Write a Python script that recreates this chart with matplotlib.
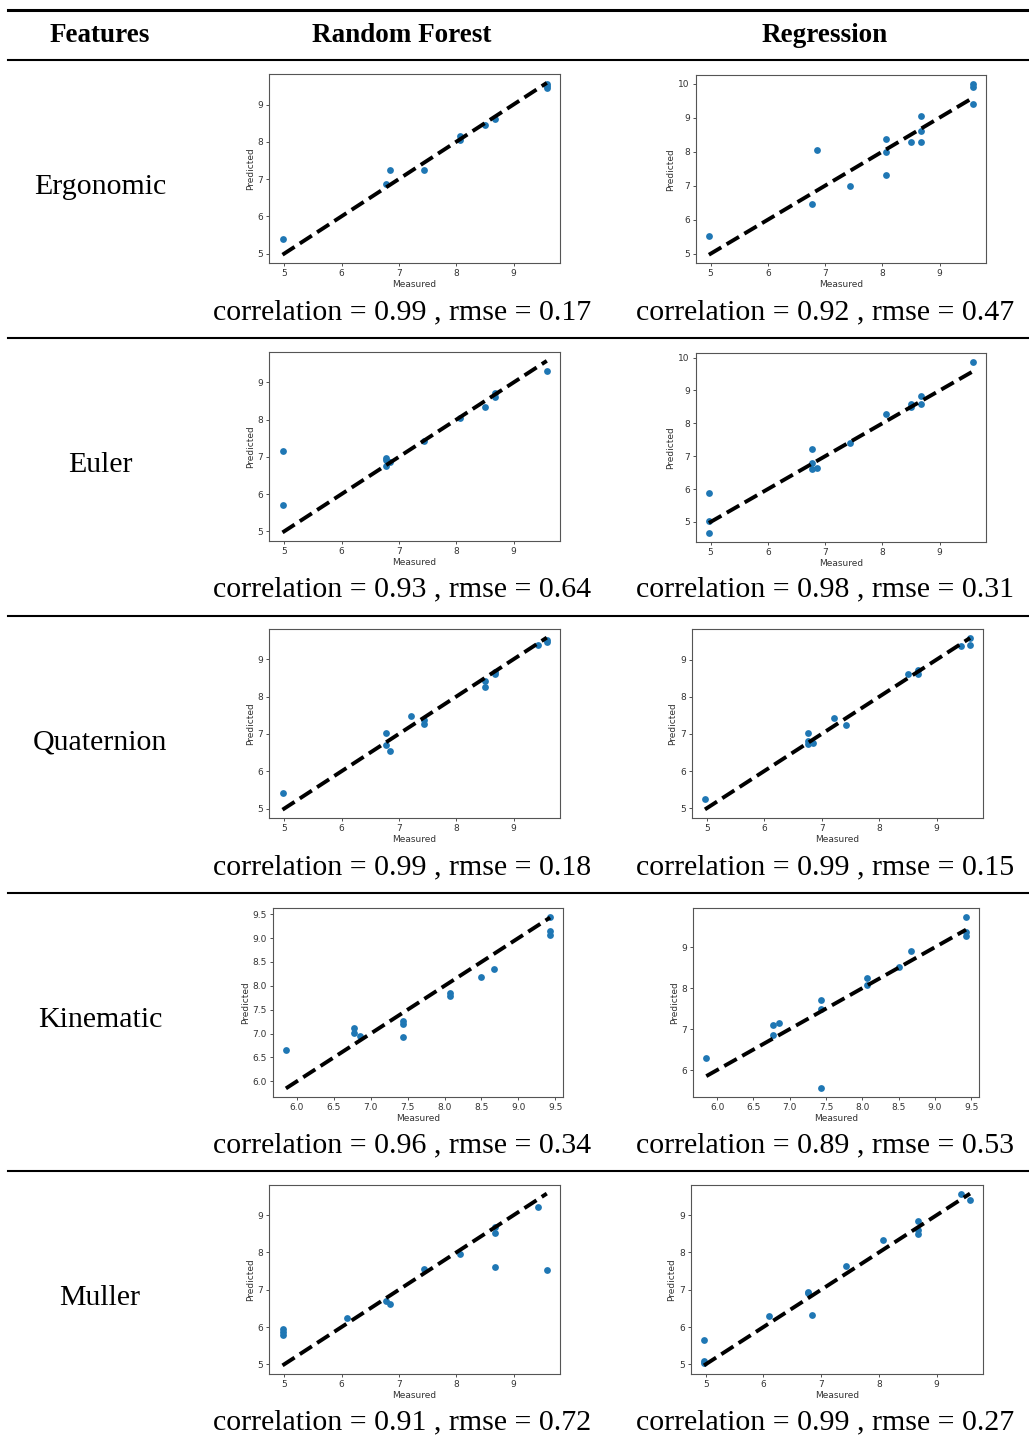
import matplotlib
matplotlib.use("Agg")
import matplotlib.pyplot as plt
from matplotlib.ticker import MultipleLocator

features = ["Ergonomic", "Euler", "Quaternion", "Kinematic", "Muller"]
headers = ["Features", "Random Forest", "Regression"]

# Measured vs. predicted scores, one pair of lists per feature set and model
ergo_rf_meas = [4.97, 6.77, 6.85, 7.43, 8.07, 8.07, 8.50, 8.68, 9.58, 9.58, 9.58]
ergo_rf_pred = [5.39, 6.86, 7.23, 7.23, 8.16, 8.06, 8.44, 8.60, 9.55, 9.49, 9.43]
ergo_reg_meas = [4.97, 6.77, 6.85, 7.43, 8.07, 8.07, 8.07, 8.50, 8.68, 8.68, 8.68, 9.58, 9.58, 9.58]
ergo_reg_pred = [5.51, 6.45, 8.04, 7.00, 8.37, 7.98, 7.30, 8.27, 9.05, 8.61, 8.27, 10.00, 9.91, 9.41]

euler_rf_meas = [4.97, 4.97, 6.77, 6.77, 6.77, 6.85, 7.43, 8.07, 8.50, 8.68, 8.68, 9.58]
euler_rf_pred = [7.16, 5.71, 6.98, 6.92, 6.76, 6.85, 7.43, 8.04, 8.33, 8.61, 8.72, 9.32]
euler_reg_meas = [4.97, 4.97, 4.97, 6.77, 6.77, 6.77, 6.85, 7.43, 8.07, 8.50, 8.50, 8.68, 8.68, 9.58]
euler_reg_pred = [5.89, 5.02, 4.66, 7.22, 6.78, 6.61, 6.65, 7.41, 8.28, 8.60, 8.49, 8.83, 8.58, 9.88]

quat_rf_meas = [4.97, 6.77, 6.77, 6.85, 7.22, 7.43, 7.43, 8.50, 8.50, 8.68, 8.68, 9.43, 9.58, 9.58]
quat_rf_pred = [5.41, 7.02, 6.69, 6.54, 7.48, 7.38, 7.27, 8.42, 8.27, 8.65, 8.60, 9.38, 9.52, 9.45]
quat_reg_meas = [4.97, 6.77, 6.77, 6.77, 6.85, 7.22, 7.43, 8.50, 8.68, 8.68, 9.43, 9.58, 9.58]
quat_reg_pred = [5.25, 7.02, 6.82, 6.73, 6.75, 7.44, 7.23, 8.60, 8.71, 8.62, 9.37, 9.59, 9.38]

kin_rf_meas = [5.85, 6.77, 6.77, 6.85, 7.43, 7.43, 7.43, 8.07, 8.07, 8.50, 8.67, 9.43, 9.43, 9.43]
kin_rf_pred = [6.65, 7.11, 7.01, 6.94, 7.27, 7.21, 6.92, 7.85, 7.78, 8.18, 8.36, 9.45, 9.14, 9.06]
kin_reg_meas = [5.85, 6.77, 6.77, 6.85, 7.43, 7.43, 7.43, 8.07, 8.07, 8.50, 8.67, 9.43, 9.43, 9.43]
kin_reg_pred = [6.30, 7.09, 6.85, 7.16, 7.70, 7.50, 5.55, 8.26, 8.08, 8.51, 8.92, 9.75, 9.37, 9.27]

muller_rf_meas = [4.97, 4.97, 4.97, 6.10, 6.77, 6.85, 7.43, 8.07, 8.68, 8.68, 8.68, 9.43, 9.58]
muller_rf_pred = [5.96, 5.86, 5.78, 6.23, 6.70, 6.61, 7.55, 7.96, 8.69, 8.53, 7.60, 9.22, 7.53]
muller_reg_meas = [4.97, 4.97, 4.97, 6.10, 6.77, 6.77, 6.85, 7.43, 8.07, 8.68, 8.68, 8.68, 9.43, 9.58]
muller_reg_pred = [5.66, 5.10, 5.04, 6.29, 6.95, 6.90, 6.31, 7.64, 8.34, 8.85, 8.60, 8.49, 9.57, 9.41]

rf_correlation = [0.99, 0.93, 0.99, 0.96, 0.91]
rf_rmse = [0.17, 0.64, 0.18, 0.34, 0.72]
reg_correlation = [0.92, 0.98, 0.99, 0.89, 0.99]
reg_rmse = [0.47, 0.31, 0.15, 0.53, 0.27]

rf_series = [(ergo_rf_meas, ergo_rf_pred), (euler_rf_meas, euler_rf_pred),
             (quat_rf_meas, quat_rf_pred), (kin_rf_meas, kin_rf_pred),
             (muller_rf_meas, muller_rf_pred)]
reg_series = [(ergo_reg_meas, ergo_reg_pred), (euler_reg_meas, euler_reg_pred),
              (quat_reg_meas, quat_reg_pred), (kin_reg_meas, kin_reg_pred),
              (muller_reg_meas, muller_reg_pred)]

W, H = 1029, 1443
fig = plt.figure(figsize=(W / 100, H / 100), dpi=100)
fig.patch.set_facecolor("white")

SERIF = ["Liberation Serif", "DejaVu Serif"]


def fx(px):
    return px / W


def fy(py):
    return 1 - py / H


def hline(py, lw, x0=8, x1=W):
    fig.add_artist(plt.Line2D([fx(x0), fx(x1)], [fy(py), fy(py)],
                              transform=fig.transFigure, color="black", lw=lw))


# table rules
hline(9.5, 2.2)
hline(60, 1.5)
for py in [338, 615.5, 893, 1171]:
    hline(py, 1.5)

# header row
for txt, cx in zip(headers, [100, 402, 825]):
    fig.text(fx(cx), fy(35), txt, ha="center", va="center",
             fontsize=19.5, fontweight="bold", family=SERIF)

# panel boxes in pixels: (left, top, right, bottom)
rf_boxes = [(269.3, 74.3, 560, 263.3), (269.3, 352.3, 560, 541),
            (269.3, 629, 560, 818.3), (272.7, 908, 563.3, 1097),
            (269.3, 1185, 560, 1374)]
reg_boxes = [(695.7, 75, 986, 263.3), (695.7, 353, 986, 541.7),
             (691.7, 629, 983.3, 818), (693.3, 908, 979, 1097),
             (690.7, 1185, 983.3, 1374)]
rf_steps = [(1, 1), (1, 1), (1, 1), (0.5, 0.5), (1, 1)]
reg_steps = [(1, 1), (1, 1), (1, 1), (0.5, 1), (1, 1)]

ROW = 277.7


def panel(box, meas, pred, steps):
    l, t, r, b = box
    ax = fig.add_axes([fx(l), fy(b), fx(r - l), (b - t) / H])
    ax.scatter(meas, pred, s=24, color="#1f77b4", linewidths=0, zorder=2)
    lo, hi = min(meas), max(meas)
    ax.plot([lo, hi], [lo, hi], "k--", lw=2.8, zorder=3)
    ax.xaxis.set_major_locator(MultipleLocator(steps[0]))
    ax.yaxis.set_major_locator(MultipleLocator(steps[1]))
    ax.tick_params(labelsize=6.5, length=2.2, width=0.6, pad=2,
                   colors="#333333")
    ax.set_xlabel("Measured", fontsize=6.5, color="#333333", labelpad=1.5)
    ax.set_ylabel("Predicted", fontsize=6.5, color="#333333", labelpad=2)
    for sp in ax.spines.values():
        sp.set_linewidth(0.8)
        sp.set_color("#555555")
    return ax


for i, name in enumerate(features):
    fig.text(fx(100), fy(187 + i * ROW), name, ha="center", va="center",
             fontsize=21.5, family=SERIF)
    panel(rf_boxes[i], *rf_series[i], rf_steps[i])
    panel(reg_boxes[i], *reg_series[i], reg_steps[i])
    cy = 312 + i * ROW
    fig.text(fx(402), fy(cy),
             f"correlation = {rf_correlation[i]:.2f} , rmse = {rf_rmse[i]:.2f}",
             ha="center", va="center", fontsize=21.5, family=SERIF)
    fig.text(fx(825), fy(cy),
             f"correlation = {reg_correlation[i]:.2f} , rmse = {reg_rmse[i]:.2f}",
             ha="center", va="center", fontsize=21.5, family=SERIF)

fig.savefig("out.png", dpi=100, facecolor="white")
